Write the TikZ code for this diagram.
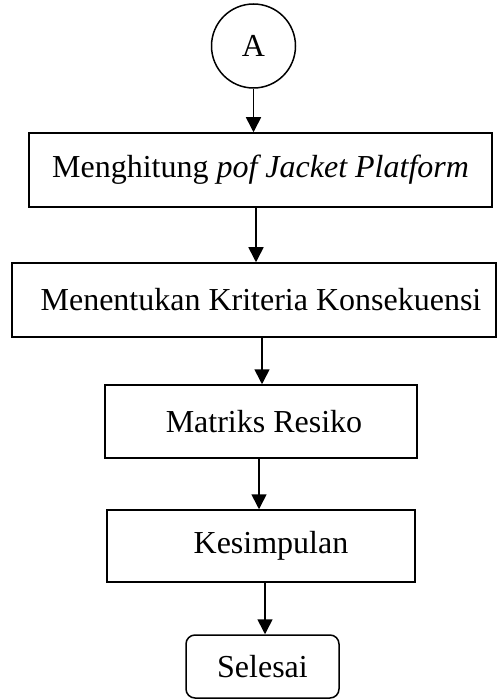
\documentclass[tikz,border=0pt]{standalone}
\usepackage{fontspec}
\setmainfont{Liberation Serif}
\usetikzlibrary{arrows.meta}

\begin{document}
\begin{tikzpicture}[x=1pt,y=-1pt,
  proses/.style={draw, line width=1.5pt, inner sep=0pt, font=\fontsize{32}{38}\selectfont},
  panah/.style={-{Triangle[width=15pt,length=15pt]}, line width=1.6pt}]
\useasboundingbox (0,0) rectangle (498,700);

% connector and process boxes
\node[proses, circle, minimum size=84pt] (A) at (253.5,46) {A};
\node[proses, minimum width=463pt, minimum height=74pt] (pof) at (260.5,170) {Menghitung \textit{pof Jacket Platform}};
\node[proses, minimum width=484pt, minimum height=74pt] (krit) at (254,300) {\hspace*{14pt}Menentukan Kriteria Konsekuensi};
\node[proses, minimum width=312pt, minimum height=73pt] (mat) at (261,421.5) {\hspace*{6pt}Matriks Resiko};
\node[proses, minimum width=308pt, minimum height=72pt] (kes) at (261,546) {\hspace*{20pt}Kesimpulan};
\node[proses, rounded corners=9pt, minimum width=153pt, minimum height=63pt] (end) at (262.5,666.5) {Selesai};

% arrows between steps
\draw[panah] (A.south) -- (A.south |- pof.north);
\draw[panah] ([xshift=-4.5pt]pof.south) -- ([xshift=-4.5pt]pof.south |- krit.north);
\draw[panah] ([xshift=8pt]krit.south) -- ([xshift=8pt]krit.south |- mat.north);
\draw[panah] ([xshift=-2pt]mat.south) -- ([xshift=-2pt]mat.south |- kes.north);
\draw[panah] ([xshift=4pt]kes.south) -- ([xshift=4pt]kes.south |- end.north);
\end{tikzpicture}
\end{document}
